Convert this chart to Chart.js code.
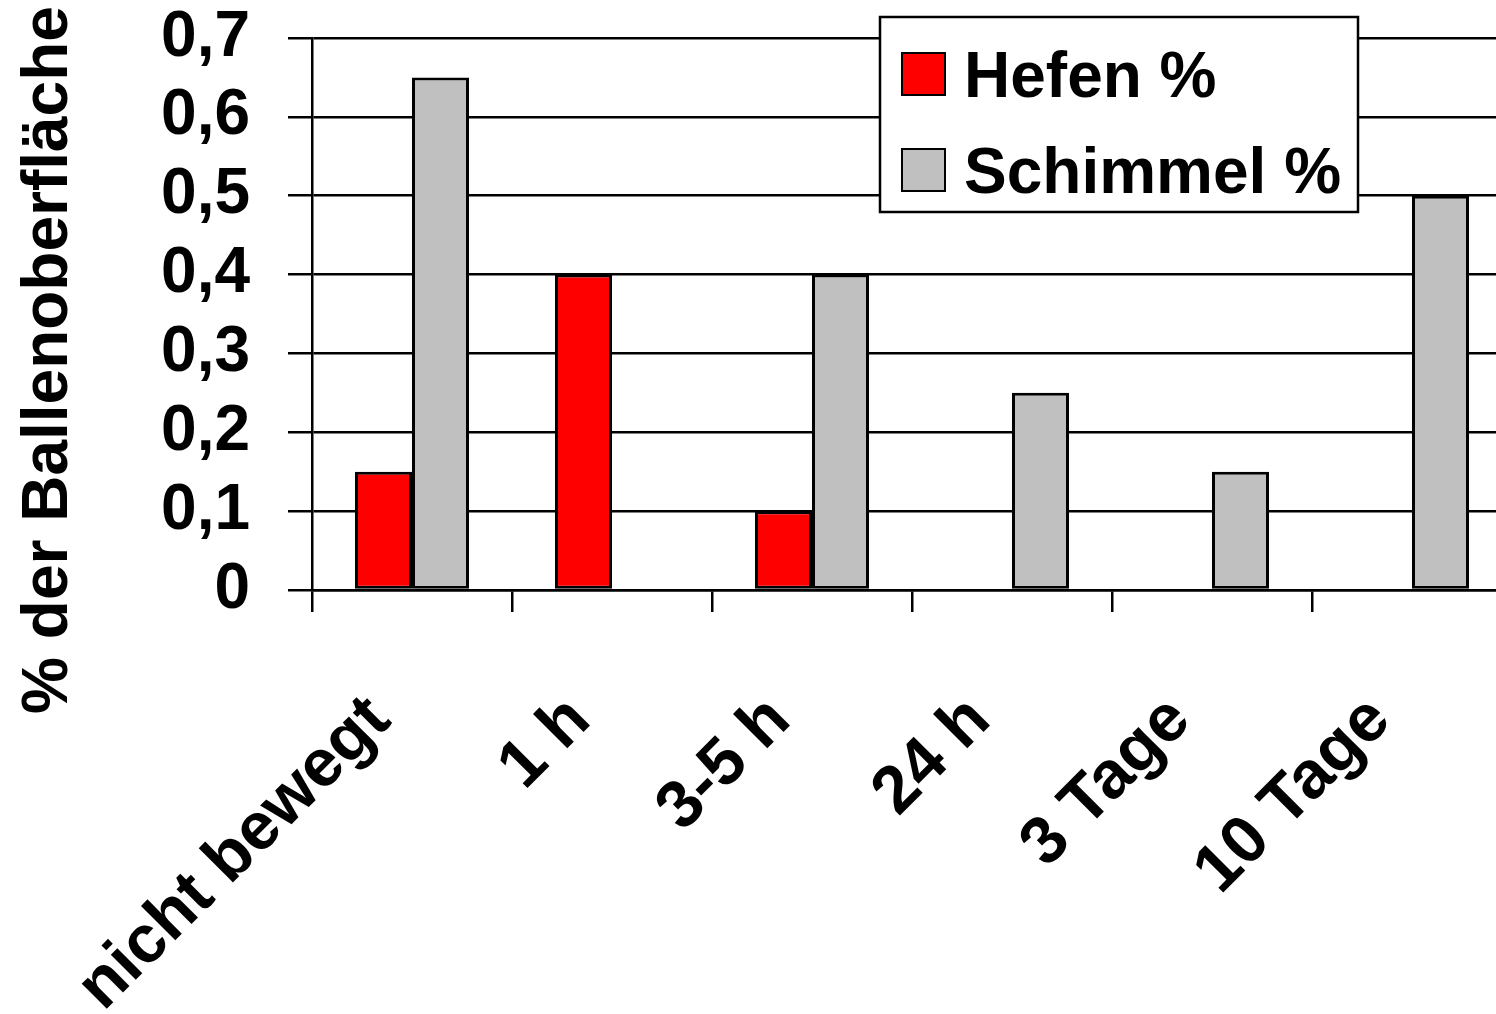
<!DOCTYPE html>
<html><head><meta charset="utf-8">
<script src="https://cdn.jsdelivr.net/npm/chart.js@4.4.0/dist/chart.umd.min.js"></script>
<style>
html,body{margin:0;padding:0;background:#fff;overflow:hidden;}
#wrap{position:relative;width:1496px;height:1014px;overflow:hidden;background:#fff;}
canvas{display:block;}
</style></head><body>
<div id="wrap"><canvas id="c" width="1512" height="1014"></canvas></div>
<script>
const categories = ['nicht bewegt', '1 h', '3-5 h', '24 h', '3 Tage', '10 Tage'];
const hefenValues = [0.15, 0.4, 0.1, 0, 0, 0];
const schimmelValues = [0.65, 0, 0.4, 0.25, 0.15, 0.5];
const seriesLabels = ['Hefen %', 'Schimmel %'];
const yMin = 0, yMax = 0.7, yStep = 0.1;
const yAxisTitle = '% der Ballenoberfläche';

const FONT = '"Liberation Sans", Arial, sans-serif';

const axisTitlePlugin = {
  id: 'axisTitlePlugin',
  afterDraw(chart) {
    const ctx = chart.ctx;
    ctx.save();
    ctx.translate(67, 360);
    ctx.rotate(-Math.PI / 2);
    ctx.font = 'bold 64px ' + FONT;
    ctx.fillStyle = '#000';
    ctx.textAlign = 'center';
    ctx.textBaseline = 'alphabetic';
    ctx.fillText(yAxisTitle, 0, 0);
    ctx.restore();
  }
};

const boxLegend = {
  id: 'boxLegend',
  afterDraw(chart) {
    const ctx = chart.ctx;
    ctx.save();
    const L = 880, T = 17, W = 478, H = 195;
    ctx.fillStyle = '#fff';
    ctx.fillRect(L, T, W, H);
    ctx.lineWidth = 2.5;
    ctx.strokeStyle = '#000';
    ctx.strokeRect(L, T, W, H);
    chart.data.datasets.forEach((ds, i) => {
      const base = i === 0 ? 97 : 193;
      const sq = i === 0 ? 53 : 149;
      ctx.fillStyle = ds.backgroundColor;
      ctx.fillRect(902, sq, 43, 42);
      ctx.lineWidth = 2;
      ctx.strokeStyle = '#000';
      ctx.strokeRect(902, sq, 43, 42);
      ctx.fillStyle = '#000';
      ctx.font = 'bold 64px ' + FONT;
      ctx.textAlign = 'left';
      ctx.textBaseline = 'alphabetic';
      ctx.fillText(ds.label, 964, base);
    });
    ctx.restore();
  }
};

new Chart(document.getElementById('c'), {
  type: 'bar',
  data: {
    labels: categories,
    datasets: [
      { label: seriesLabels[0], data: hefenValues, backgroundColor: '#FF0000', borderColor: '#000', borderWidth: 3, borderSkipped: false },
      { label: seriesLabels[1], data: schimmelValues, backgroundColor: '#C0C0C0', borderColor: '#000', borderWidth: 3, borderSkipped: false }
    ]
  },
  options: {
    responsive: false,
    animation: false,
    events: [],
    categoryPercentage: 0.57,
    barPercentage: 1.0,
    layout: { padding: { top: 38, right: 0, left: 0, bottom: 0 } },
    plugins: { legend: { display: false }, tooltip: { enabled: false }, title: { display: false } },
    scales: {
      x: {
        offset: true,
        grid: { offset: true, drawOnChartArea: false, drawTicks: true, tickLength: 22, color: '#000', lineWidth: 2.5 },
        border: { display: true, color: '#000', width: 2.5 },
        ticks: { color: '#000', font: { family: FONT, weight: 'bold', size: 67 }, minRotation: 45, maxRotation: 45, padding: 69, labelOffset: -32, autoSkip: false },
        afterFit(s) { s.height = 1014 - 590; s.paddingLeft = 0; s.paddingRight = 0; }
      },
      y: {
        min: yMin, max: yMax,
        grid: { color: '#000', lineWidth: 2.5, drawTicks: true, tickLength: 24 },
        border: { display: true, color: '#000', width: 2.5 },
        ticks: {
          stepSize: yStep, color: '#000', padding: 38,
          font: { family: FONT, weight: 'bold', size: 64, lineHeight: 1 },
          callback: v => (Math.abs(v) < 1e-9 ? '0' : v.toFixed(1).replace('.', ','))
        },
        afterFit(s) { s.width = 312; s.paddingTop = 0; s.paddingBottom = 0; }
      }
    }
  },
  plugins: [axisTitlePlugin, boxLegend]
});
</script>
</body></html>
